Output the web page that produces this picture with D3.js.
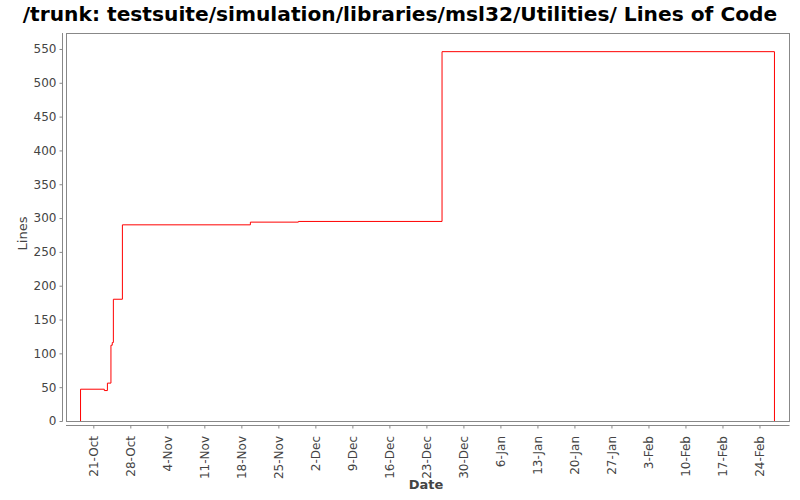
<!DOCTYPE html>
<html>
<head>
<meta charset="utf-8">
<script src="https://cdn.jsdelivr.net/npm/d3@7"></script>
<style>
  body { margin: 0; background: #fff; }
  text { font-family: "DejaVu Sans", sans-serif; }
</style>
</head>
<body>
<svg id="chart" width="800" height="500"></svg>
<script>
// step data
var dates = [
  "2007-10-18T14:00", "2007-10-23T02:00", "2007-10-23T16:00", "2007-10-24T08:00",
  "2007-10-24T14:00", "2007-10-24T19:00", "2007-10-26T12:00", "2007-11-19T17:00",
  "2007-11-28T19:00", "2007-12-25T23:00", "2008-02-26T20:00"
];
var lines = [47, 45, 56, 112, 116, 180, 290, 294, 295, 546, 0];
var yTicks = [0, 50, 100, 150, 200, 250, 300, 350, 400, 450, 500, 550];

(function () {
  var parse = d3.timeParse("%Y-%m-%dT%H:%M");
  var pts = dates.map(function(d, i) { return {date: parse(d), value: lines[i]}; });

  var svg = d3.select("#chart");
  var pLeft = 66, pRight = 789, pTop = 33, pBottom = 421;

  var x = d3.scaleTime()
    .domain([parse("2007-10-15T20:00"), parse("2008-02-29T14:00")])
    .range([pLeft, pRight]);
  var y = d3.scaleLinear().domain([0, 573.6]).range([pBottom, pTop]);

  // title
  svg.append("text")
    .attr("x", 400).attr("y", 21)
    .attr("text-anchor", "middle")
    .attr("font-size", "20.2px").attr("font-weight", "bold")
    .attr("fill", "#000")
    .text("/trunk: testsuite/simulation/libraries/msl32/Utilities/ Lines of Code");

  // plot frame
  svg.append("rect")
    .attr("x", pLeft + 0.5).attr("y", pTop + 0.5)
    .attr("width", pRight - pLeft).attr("height", pBottom - pTop)
    .attr("fill", "#fff").attr("stroke", "#888");

  // y axis
  var yAxis = d3.axisLeft(y).tickValues(yTicks).tickSize(3).tickPadding(3);
  var gy = svg.append("g").attr("transform", "translate(62.5,0)").call(yAxis);
  gy.select(".domain").attr("d", "M0," + pTop + "V" + (pBottom + 0.5)).attr("stroke", "#888");
  gy.selectAll(".tick line").attr("stroke", "#888");
  gy.selectAll(".tick text").attr("fill", "#444").attr("font-size", "12px")
    .style("font-family", "DejaVu Sans, sans-serif");

  // x axis, weekly ticks
  var weeks = d3.timeWeek.range(parse("2007-10-21T00:00"), parse("2008-02-25T00:00"));
  var xAxis = d3.axisBottom(x).tickValues(weeks).tickFormat(d3.timeFormat("%-d-%b"))
    .tickSize(3).tickPadding(3);
  var gx = svg.append("g").attr("transform", "translate(0,425.5)").call(xAxis);
  gx.select(".domain").attr("d", "M" + pLeft + ",0H" + (pRight + 0.5)).attr("stroke", "#888");
  gx.selectAll(".tick line").attr("stroke", "#888");
  gx.selectAll(".tick text")
    .attr("fill", "#444").attr("font-size", "12px")
    .style("font-family", "DejaVu Sans, sans-serif")
    .attr("text-anchor", "end")
    .attr("transform", "rotate(-90)")
    .attr("x", -10.5).attr("y", 0).attr("dy", "0.35em");

  // axis labels
  svg.append("text")
    .attr("x", 426).attr("y", 489)
    .attr("text-anchor", "middle")
    .attr("font-size", "13px").attr("font-weight", "bold").attr("fill", "#444")
    .text("Date");
  svg.append("text")
    .attr("transform", "translate(26.5,233.5) rotate(-90)")
    .attr("text-anchor", "middle")
    .attr("font-size", "13px").attr("fill", "#444")
    .text("Lines");

  // step line, starting from zero
  var stepLine = d3.line()
    .x(function(d) { return x(d.date); })
    .y(function(d) { return y(d.value); })
    .curve(d3.curveStepAfter);
  var linePts = [{date: pts[0].date, value: 0}].concat(pts);
  svg.append("path")
    .datum(linePts)
    .attr("d", stepLine)
    .attr("fill", "none")
    .attr("stroke", "#ff0000")
    .attr("stroke-width", 1);
})();
</script>
</body>
</html>
